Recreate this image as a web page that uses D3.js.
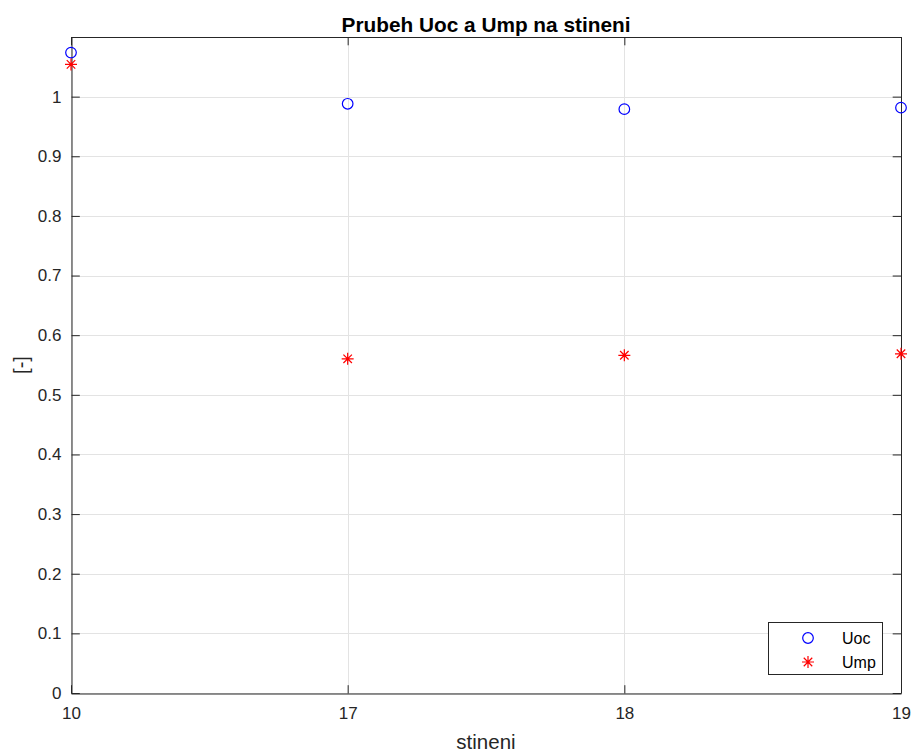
<!DOCTYPE html>
<html>
<head>
<meta charset="utf-8">
<script src="https://cdn.jsdelivr.net/npm/d3@7/dist/d3.min.js"></script>
<style>
  html, body { margin: 0; padding: 0; background: #fff; }
  svg { display: block; font-family: "Liberation Sans", Arial, Helvetica, sans-serif; }
</style>
</head>
<body>
<svg id="chart" width="914" height="754"></svg>
<script>
const categories = ["10", "17", "18", "19"];
const uocValues = [1.0738, 0.988, 0.979, 0.9815];
const umpValues = [1.054, 0.5604, 0.5663, 0.5688];
const yTicks = [0, 0.1, 0.2, 0.3, 0.4, 0.5, 0.6, 0.7, 0.8, 0.9, 1];
const yTickLabels = ["0", "0.1", "0.2", "0.3", "0.4", "0.5", "0.6", "0.7", "0.8", "0.9", "1"];
const seriesNames = ["Uoc", "Ump"];
const titleText = "Prubeh Uoc a Ump na stineni";
const xLabelText = "stineni";
const yLabelText = "[-]";

const L = 71, R = 901, T = 37, B = 693;
const axisColor = "#262626";
const gridColor = "#e3e3e3";
const tickLen = 8.3;

const svg = d3.select("#chart");
const x = d3.scalePoint().domain(categories).range([L, R]).padding(0);
const y = d3.scaleLinear().domain([0, 1.1]).range([B, T]);

// grid
const grid = svg.append("g");
grid.selectAll(".gy").data(yTicks).enter().append("line")
  .attr("x1", L).attr("x2", R)
  .attr("y1", d => Math.round(y(d)) + 0.5).attr("y2", d => Math.round(y(d)) + 0.5)
  .attr("stroke", gridColor).attr("stroke-width", 1);
grid.selectAll(".gx").data(categories).enter().append("line")
  .attr("y1", T).attr("y2", B)
  .attr("x1", d => Math.round(x(d)) + 0.5).attr("x2", d => Math.round(x(d)) + 0.5)
  .attr("stroke", gridColor).attr("stroke-width", 1);

// axes using d3 axis
const xAxisB = d3.axisBottom(x).tickSizeInner(-tickLen).tickSizeOuter(0);
const gxB = svg.append("g").attr("transform", `translate(0,${B + 0.5})`).call(xAxisB);
gxB.select(".domain").attr("stroke", axisColor);
gxB.selectAll(".tick line").attr("stroke", axisColor);
gxB.selectAll(".tick text").attr("fill", axisColor).attr("font-size", 17)
  .attr("font-family", "Liberation Sans, Arial, sans-serif").attr("dy", "0.71em").attr("y", 13);

const xAxisT = d3.axisTop(x).tickSizeInner(-tickLen).tickSizeOuter(0).tickFormat("");
const gxT = svg.append("g").attr("transform", `translate(0,${T})`).call(xAxisT);
gxT.select(".domain").attr("stroke", axisColor);
gxT.selectAll(".tick line").attr("stroke", axisColor);

const yAxisL = d3.axisLeft(y).tickValues(yTicks).tickFormat((d, i) => yTickLabels[i])
  .tickSizeInner(-tickLen).tickSizeOuter(0).tickPadding(10);
const gyL = svg.append("g").attr("transform", `translate(${L + 0.5},0)`).call(yAxisL);
gyL.select(".domain").attr("stroke", axisColor);
gyL.selectAll(".tick line").attr("stroke", axisColor);
gyL.selectAll(".tick text").attr("fill", axisColor).attr("font-size", 17)
  .attr("font-family", "Liberation Sans, Arial, sans-serif");

const yAxisR = d3.axisRight(y).tickValues(yTicks).tickFormat("")
  .tickSizeInner(-tickLen).tickSizeOuter(0);
const gyR = svg.append("g").attr("transform", `translate(${R},0)`).call(yAxisR);
gyR.select(".domain").attr("stroke", axisColor);
gyR.selectAll(".tick line").attr("stroke", axisColor);

// title and labels
svg.append("text").attr("x", (L + R) / 2).attr("y", 31.5).attr("text-anchor", "middle")
  .attr("font-size", 20.8).attr("font-weight", "bold").attr("fill", "#000").text(titleText);
svg.append("text").attr("x", (L + R) / 2).attr("y", 749).attr("text-anchor", "middle")
  .attr("font-size", 20.5).attr("fill", axisColor).text(xLabelText);
svg.append("text").attr("transform", `translate(28,${(T + B) / 2}) rotate(-90)`)
  .attr("text-anchor", "middle").attr("font-size", 20).attr("fill", axisColor).text(yLabelText);

// markers
function star(g, cx, cy, r, color) {
  const d = r * Math.SQRT1_2;
  const p = `M${cx - r},${cy}L${cx + r},${cy}M${cx},${cy - r}L${cx},${cy + r}` +
            `M${cx - d},${cy - d}L${cx + d},${cy + d}M${cx - d},${cy + d}L${cx + d},${cy - d}`;
  g.append("path").attr("d", p).attr("stroke", color).attr("stroke-width", 1.2).attr("fill", "none");
}
const marks = svg.append("g");
marks.selectAll(".uoc").data(uocValues).enter().append("circle")
  .attr("cx", (d, i) => x(categories[i])).attr("cy", d => y(d)).attr("r", 5.3)
  .attr("fill", "none").attr("stroke", "#0000ff").attr("stroke-width", 1.2);
umpValues.forEach((v, i) => star(marks, x(categories[i]), y(v), 6, "#ff0000"));

// legend
const lg = svg.append("g");
lg.append("rect").attr("x", 768.5).attr("y", 622.5).attr("width", 114).attr("height", 52)
  .attr("fill", "#fff").attr("stroke", axisColor).attr("stroke-width", 1);
lg.append("circle").attr("cx", 808).attr("cy", 638).attr("r", 5.3)
  .attr("fill", "none").attr("stroke", "#0000ff").attr("stroke-width", 1.2);
star(lg, 808, 662, 6, "#ff0000");
lg.append("text").attr("x", 842).attr("y", 638).attr("dy", "0.35em").attr("font-size", 16)
  .attr("fill", "#000").text(seriesNames[0]);
lg.append("text").attr("x", 842).attr("y", 662).attr("dy", "0.35em").attr("font-size", 16)
  .attr("fill", "#000").text(seriesNames[1]);
</script>
</body>
</html>
